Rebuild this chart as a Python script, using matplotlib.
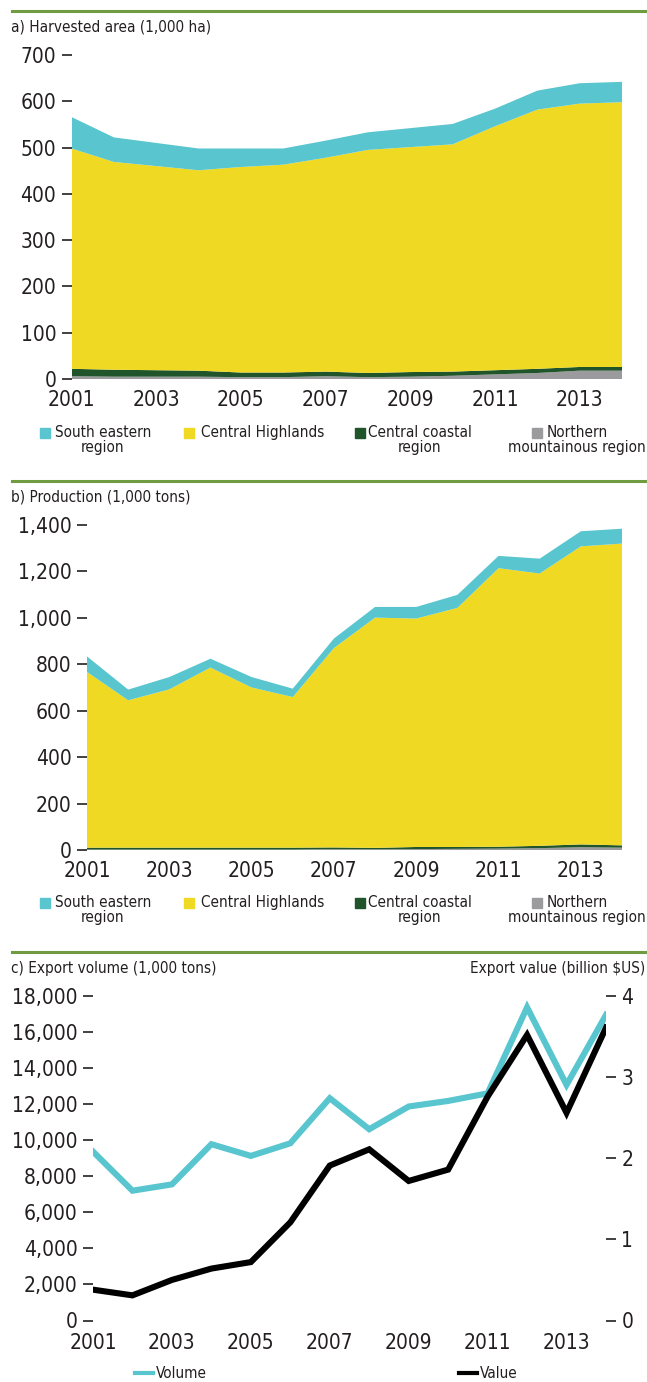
import os
import re
import matplotlib
matplotlib.use("Agg")
import matplotlib.pyplot as plt
from matplotlib import font_manager as fm
from matplotlib.patches import Rectangle
from matplotlib.lines import Line2D
from matplotlib.ticker import FuncFormatter

years = list(range(2001, 2015))
year_ticks = list(range(2001, 2015, 2))

# a) harvested area, 1,000 ha, stacked by region
area_northern = [6, 5, 5, 5, 4, 4, 6, 4, 5, 7, 10, 13, 18, 18]
area_coastal = [16, 15, 14, 13, 10, 10, 10, 9, 10, 9, 9, 9, 8, 8]
area_highlands = [476, 449, 441, 433, 444, 449, 462, 482, 486, 491, 527, 560, 569, 572]
area_southeast = [68, 53, 50, 47, 40, 35, 37, 38, 41, 44, 38, 41, 44, 44]

# b) production, 1,000 tons, stacked by region
prod_northern = [2, 2, 2, 2, 2, 2, 4, 3, 4, 5, 6, 8, 12, 10]
prod_coastal = [8, 8, 8, 8, 8, 8, 7, 6, 9, 8, 8, 10, 12, 10]
prod_highlands = [757, 635, 682, 776, 690, 649, 859, 992, 984, 1030, 1200, 1173, 1284, 1300]
prod_southeast = [67, 46, 53, 38, 45, 36, 41, 46, 50, 56, 53, 64, 65, 64]

# c) exports
export_volume = [9370, 7200, 7550, 9780, 9130, 9830, 12330, 10610, 11870, 12180, 12600, 17370, 13070, 16950]
export_value = [0.38, 0.31, 0.50, 0.64, 0.72, 1.21, 1.91, 2.11, 1.72, 1.86, 2.76, 3.52, 2.56, 3.61]

region_names = ["South eastern\nregion", "Central Highlands", "Central coastal\nregion",
                "Northern\nmountainous region"]
region_colors = ["#58c5cf", "#efd923", "#20542a", "#9b9b9d"]

# look for a narrow regular face; otherwise shrink DejaVu
narrow = None
for f in fm.fontManager.ttflist:
    base = os.path.basename(f.fname)
    if re.search(r"(Condensed|Narrow)", base) and not re.search(
            r"(Bold|Italic|Oblique|Light|Thin|Medium|Black|Semi|Extra|Ultra|Mono|Serif)", base):
        narrow = f
        break

if narrow is not None:
    plt.rcParams['font.family'] = [narrow.name, 'DejaVu Sans']
    plt.rcParams['font.stretch'] = narrow.stretch
    TICK_SIZE, SMALL = 15, 11
else:
    plt.rcParams['font.family'] = ['DejaVu Sans']
    TICK_SIZE, SMALL = 13, 9.5

TEXT = "#231f20"
plt.rcParams['text.color'] = TEXT
plt.rcParams['xtick.color'] = TEXT
plt.rcParams['ytick.color'] = TEXT

W, H = 647, 1382
fig = plt.figure(figsize=(W / 100, H / 100), dpi=100)
fig.patch.set_facecolor("white")

GREEN = "#6f9b41"


def fx(px):
    return px / W


def fy(py):
    return 1 - py / H


def panel(left, right, top, bottom):
    return fig.add_axes([fx(left), fy(bottom), (right - left) / W, (bottom - top) / H])


def style(ax, xpad):
    for s in ax.spines.values():
        s.set_visible(False)
    ax.set_xlim(2001, 2014)
    ax.set_xticks(year_ticks)
    ax.tick_params(axis="x", length=0, pad=xpad, labelsize=TICK_SIZE)
    ax.tick_params(axis="y", length=7, width=1.2, pad=4, labelsize=TICK_SIZE)
    ax.yaxis.set_major_formatter(FuncFormatter(lambda v, p: f"{v:,.0f}"))


def separator(py):
    fig.add_artist(Line2D([fx(12), 1], [fy(py), fy(py)], color=GREEN, lw=2.2,
                          transform=fig.transFigure))


def region_legend(py):
    # square x, text x, alignment
    spots = [(40, 103, "center"), (184, 201, "left"), (355, 420, "center"), (532, 577, "center")]
    for (sq, tx, ha), name, col in zip(spots, region_names, region_colors):
        fig.add_artist(Rectangle((fx(sq), fy(py + 5)), 10 / W, 10 / H, color=col,
                                 transform=fig.transFigure))
        fig.text(fx(tx), fy(py - 8), name, ha=ha, va="top", ma="center",
                 fontsize=SMALL, linespacing=1.0)


# ---- a) harvested area
separator(11)
fig.text(fx(11), fy(27), "a) Harvested area (1,000 ha)", fontsize=SMALL, va="center")
ax_a = panel(71.5, 622, 55, 379)
ax_a.stackplot(years, area_northern, area_coastal, area_highlands, area_southeast,
               colors=region_colors[::-1], lw=0)
ax_a.set_ylim(0, 700)
ax_a.set_yticks(range(0, 701, 100))
style(ax_a, 8)
region_legend(433)

# ---- b) production
separator(481)
fig.text(fx(11), fy(497), "b) Production (1,000 tons)", fontsize=SMALL, va="center")
ax_b = panel(87, 622, 525, 850)
ax_b.stackplot(years, prod_northern, prod_coastal, prod_highlands, prod_southeast,
               colors=region_colors[::-1], lw=0)
ax_b.set_ylim(0, 1400)
ax_b.set_yticks(range(0, 1401, 200))
style(ax_b, 8)
region_legend(903)

# ---- c) export volume and value
separator(952)
fig.text(fx(11), fy(968), "c) Export volume (1,000 tons)", fontsize=SMALL, va="center")
fig.text(fx(645), fy(968), "Export value (billion $US)", fontsize=SMALL, va="center", ha="right")
ax_c = panel(93, 606, 996, 1320.5)
ax_c.plot(years, export_volume, color="#58c5cf", lw=4.4, solid_joinstyle="miter")
ax_c.set_ylim(0, 18000)
ax_c.set_yticks(range(0, 18001, 2000))
style(ax_c, 9)

ax_v = ax_c.twinx()
ax_v.plot(years, export_value, color="black", lw=4.4, solid_joinstyle="miter")
ax_v.set_ylim(0, 4)
ax_v.set_yticks([0, 1, 2, 3, 4])
for s in ax_v.spines.values():
    s.set_visible(False)
ax_v.tick_params(axis="y", length=7, width=1.2, pad=4, labelsize=TICK_SIZE)

# line legend
for x0, col, label in [(135, "#58c5cf", "Volume"), (459, "black", "Value")]:
    fig.add_artist(Line2D([fx(x0), fx(x0 + 18)], [fy(1373), fy(1373)], color=col, lw=3,
                          transform=fig.transFigure))
    fig.text(fx(x0 + 21), fy(1373), label, fontsize=SMALL, va="center")

fig.savefig("out.png", dpi=100)
